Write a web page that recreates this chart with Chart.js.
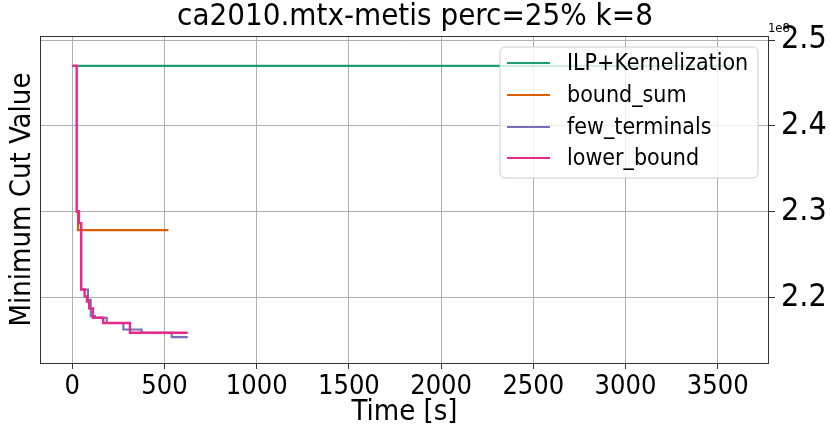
<!DOCTYPE html>
<html><head><meta charset="utf-8">
<script src="https://cdn.jsdelivr.net/npm/chart.js@4.4.1/dist/chart.umd.min.js"></script>
<style>html,body{margin:0;padding:0;background:#fff}#wrap{width:830px;height:438px}</style>
</head><body><div id="wrap"><canvas id="c" width="830" height="438"></canvas></div>
<script>
const seriesNames = ['ILP+Kernelization', 'bound_sum', 'few_terminals', 'lower_bound'];
const seriesColors = ['#1b9e77', '#d95f02', '#7570b3', '#e7298a'];

const ilpT = [28, 3600];
const ilpV = [2.4698e8, 2.4698e8];
const boundT = [24, 31, 521];
const boundV = [2.300e8, 2.2783e8, 2.2783e8];
const fewT = [24, 36, 48, 85, 100, 123, 187, 277, 376, 539, 626];
const fewV = [2.300e8, 2.2864e8, 2.209e8, 2.197e8, 2.178e8, 2.176e8, 2.170e8, 2.1624e8, 2.1585e8, 2.1535e8, 2.1535e8];
const lowT = [0, 24, 36, 48, 67, 80, 92, 112, 168, 313, 626];
const lowV = [2.470e8, 2.300e8, 2.2864e8, 2.209e8, 2.201e8, 2.195e8, 2.187e8, 2.176e8, 2.170e8, 2.1585e8, 2.1585e8];

const xTicks = [0, 500, 1000, 1500, 2000, 2500, 3000, 3500];
const yTicks = [2.2e8, 2.3e8, 2.4e8, 2.5e8];

const FONT = '"DejaVu Sans Condensed", "DejaVu Sans", sans-serif';
const toPts = (t, v) => t.map((x, i) => ({x: x, y: v[i]}));
const allT = [ilpT, boundT, fewT, lowT];
const allV = [ilpV, boundV, fewV, lowV];
const drawOrder = [3, 2, 1, 0];

const datasets = seriesNames.map((n, i) => ({
  label: n,
  data: toPts(allT[i], allV[i]),
  borderColor: seriesColors[i],
  backgroundColor: seriesColors[i],
  borderWidth: i === 3 ? 2.4 : 2.1,
  pointRadius: 0,
  stepped: true,
  fill: false,
  order: drawOrder[i],
  yAxisID: 'y'
}));

const extras = {
  id: 'extras',
  afterDraw(chart) {
    const ctx = chart.ctx, a = chart.chartArea;
    ctx.save();
    ctx.strokeStyle = '#333';
    ctx.lineWidth = 1;
    ctx.strokeRect(a.left + 0.5, a.top + 0.5, a.right - a.left - 1, a.bottom - a.top);
    ctx.fillStyle = '#000';
    ctx.font = '13px ' + FONT;
    ctx.textAlign = 'right';
    ctx.textBaseline = 'alphabetic';
    ctx.fillText('1e8', a.right + 21, a.top - 4);
    const lx = 500, ly = 47, lw = 258, lh = 131, r = 5;
    ctx.beginPath();
    ctx.moveTo(lx + r, ly);
    ctx.arcTo(lx + lw, ly, lx + lw, ly + lh, r);
    ctx.arcTo(lx + lw, ly + lh, lx, ly + lh, r);
    ctx.arcTo(lx, ly + lh, lx, ly, r);
    ctx.arcTo(lx, ly, lx + lw, ly, r);
    ctx.closePath();
    ctx.fillStyle = 'rgba(255,255,255,0.8)';
    ctx.fill();
    ctx.strokeStyle = '#cccccc';
    ctx.stroke();
    const rows = [63, 95, 127, 158];
    ctx.font = '23px ' + FONT;
    ctx.textAlign = 'left';
    ctx.textBaseline = 'middle';
    seriesNames.forEach((n, i) => {
      ctx.strokeStyle = seriesColors[i];
      ctx.lineWidth = 2;
      ctx.beginPath();
      ctx.moveTo(507, rows[i]);
      ctx.lineTo(550, rows[i]);
      ctx.stroke();
      ctx.fillStyle = '#000';
      ctx.fillText(n, 567, rows[i] + 1);
    });
    ctx.restore();
  }
};

new Chart(document.getElementById('c'), {
  type: 'line',
  data: { datasets },
  plugins: [extras],
  options: {
    responsive: false,
    animation: false,
    layout: { padding: 0 },
    plugins: {
      legend: { display: false },
      tooltip: { enabled: false },
      title: {
        display: true,
        text: 'ca2010.mtx-metis perc=25% k=8',
        color: '#000',
        font: { family: FONT, size: 31, weight: 'normal', lineHeight: 1.0 },
        padding: { top: 1, bottom: 4 }
      }
    },
    scales: {
      x: {
        type: 'linear',
        min: -175, max: 3778,
        afterBuildTicks: s => { s.ticks = xTicks.map(v => ({value: v})); },
        afterFit: s => { s.height = 75; },
        grid: { color: '#b0b0b0', lineWidth: 1, tickColor: '#333', tickLength: 6 },
        border: { display: false },
        ticks: { color: '#000', font: { family: FONT, size: 27, lineHeight: 1.0 }, padding: 4, maxRotation: 0, autoSkip: false, callback: v => String(v) },
        title: { display: true, text: 'Time [s]', color: '#000', font: { family: FONT, size: 29, lineHeight: 1.0 }, padding: { top: 0, bottom: 11 } }
      },
      yL: {
        type: 'linear',
        position: 'left',
        min: 2.1233e8, max: 2.5047e8,
        afterBuildTicks: s => { s.ticks = yTicks.map(v => ({value: v})); },
        afterFit: s => { s.width = 40; },
        grid: { display: false },
        border: { display: false },
        ticks: { display: false },
        title: { display: true, text: 'Minimum Cut Value', color: '#000', font: { family: FONT, size: 29, lineHeight: 1.0 }, padding: { top: 8, bottom: 0 } }
      },
      y: {
        type: 'linear',
        position: 'right',
        min: 2.1233e8, max: 2.5047e8,
        afterBuildTicks: s => { s.ticks = yTicks.map(v => ({value: v})); },
        afterFit: s => { s.width = 61; },
        grid: { color: '#b0b0b0', lineWidth: 1, tickColor: '#333', tickLength: 6 },
        border: { display: false },
        ticks: { color: '#000', font: { family: FONT, size: 32 }, padding: 6, callback: v => (v / 1e8).toFixed(1) }
      }
    }
  }
});
</script></body></html>
